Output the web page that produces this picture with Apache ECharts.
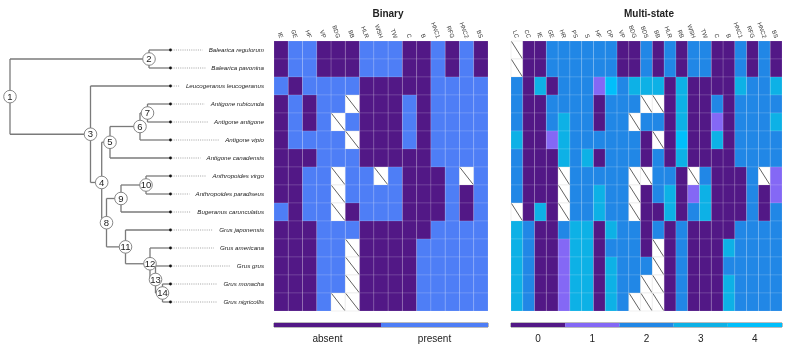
<!DOCTYPE html>
<html><head><meta charset="utf-8">
<script src="https://cdn.jsdelivr.net/npm/echarts@6/dist/echarts.min.js"></script>
<style>html,body{margin:0;padding:0;background:#fff}#c{width:790px;height:349px}</style>
</head><body><div id="c"></div>
<script>
// ---------------- DATA ----------------
const species = ['Balearica regulorum','Balearica pavonina','Leucogeranus leucogeranus','Antigone rubicunda','Antigone antigone','Antigone vipio','Antigone canadensis','Anthropoides virgo','Anthropoides paradiseus','Bugeranus carunculatus','Grus japonensis','Grus americana','Grus grus','Grus monacha','Grus nigricollis'];
const binaryTraits = ['IE','GE','HF','VP','BDG','BB','HLR','WSH','TW','C','B','HNC1','RFG','HNC2','BS'];
const multiTraits = ['LC','CC','IE','GE','HR','PS','S','HF','DP','VP','BDG','BDS','BB','HLR','RB','WSH','TW','C','B','HNC1','RFG','HNC2','BS'];
const binaryLevels = ['absent','present'];
const multiLevels = ['0','1','2','3','4'];
const NA = null;
// binary: 0 absent, 1 present, null = missing
const binaryValues = [
 [0,1,1,0,0,0,1,1,1,0,0,1,0,1,0],
 [0,1,1,0,0,0,1,1,1,0,0,1,0,1,0],
 [1,0,1,1,1,1,0,0,0,0,0,1,1,1,1],
 [0,1,0,1,1,NA,0,0,0,1,0,1,1,1,1],
 [0,1,0,1,NA,1,0,0,0,1,0,1,1,1,1],
 [0,1,1,1,1,NA,0,0,0,1,0,1,1,1,1],
 [0,0,0,1,1,1,0,0,0,0,0,1,1,1,1],
 [0,0,1,1,NA,1,1,NA,1,0,0,0,1,NA,1],
 [0,0,1,1,NA,1,1,1,1,0,0,0,1,0,1],
 [1,0,1,1,NA,0,1,1,1,0,0,0,1,0,1],
 [0,0,0,1,1,1,0,0,0,0,0,1,1,1,1],
 [0,0,0,1,1,NA,0,0,0,0,1,1,1,1,1],
 [0,0,0,1,1,NA,0,0,0,0,1,1,1,1,1],
 [0,0,0,1,1,NA,0,0,0,0,1,1,1,1,1],
 [0,0,0,1,NA,NA,0,0,0,0,1,1,1,1,1]
];
// multi-state: LC CC IE GE HR PS S HF DP VP BDG BDS BB HLR RB WSH TW C B HNC1 RFG HNC2 BS
const multiValues = [
 [NA,0,0,2,2,2,2,2,2,0,0,2,0,2,0,2,2,0,0,2,0,2,0],
 [NA,0,0,2,2,2,2,2,2,0,0,2,0,2,0,2,2,0,0,2,0,2,0],
 [2,0,3,0,2,2,2,1,4,2,3,3,3,0,3,0,0,0,0,3,2,2,3],
 [2,0,0,2,2,2,2,0,2,2,2,NA,NA,0,3,0,0,2,0,2,2,2,2],
 [2,0,0,2,3,2,2,0,2,2,NA,2,2,0,3,0,0,1,0,2,2,2,3],
 [3,0,0,1,3,2,2,2,2,2,2,0,NA,0,4,0,0,3,0,2,2,2,2],
 [2,0,0,0,3,2,3,0,2,2,2,0,2,0,3,0,0,0,0,2,2,2,2],
 [2,0,0,0,NA,2,2,2,2,2,NA,NA,2,2,0,NA,2,0,0,0,2,NA,1],
 [2,0,0,0,NA,2,2,3,2,2,NA,0,2,3,0,1,3,0,0,0,2,0,1],
 [NA,0,3,0,NA,2,2,3,2,2,NA,0,0,3,0,2,3,0,0,0,2,0,2],
 [3,2,0,0,2,3,3,0,3,2,2,0,2,0,2,0,0,0,0,2,2,2,2],
 [3,2,0,0,1,3,3,0,2,2,2,0,NA,0,2,0,0,0,3,2,2,2,2],
 [3,2,0,0,1,3,3,0,3,2,2,2,NA,0,2,0,0,0,2,2,2,2,2],
 [3,2,0,0,1,3,3,0,3,2,2,NA,NA,0,2,0,0,0,3,2,2,2,2],
 [3,2,0,0,1,3,3,0,3,2,NA,NA,NA,0,2,0,0,0,3,2,2,2,2]
];
// tree: internal nodes 1..14, their depth position and children (node number or tip name)
const treeNodeIds = [1,2,3,4,5,6,7,8,9,10,11,12,13,14];
const treeNodeDepth = [10,149,90.5,101.7,110,140,147.5,106.5,121,146,125.5,150,155.5,162.5];
const treeNodeChildren = [
 [2,3],
 ['Balearica regulorum','Balearica pavonina'],
 ['Leucogeranus leucogeranus',4],
 [5,8],
 [6,'Antigone canadensis'],
 [7,'Antigone vipio'],
 ['Antigone rubicunda','Antigone antigone'],
 [9,11],
 [10,'Bugeranus carunculatus'],
 ['Anthropoides virgo','Anthropoides paradiseus'],
 ['Grus japonensis',12],
 ['Grus americana',13],
 ['Grus grus',14],
 ['Grus monacha','Grus nigricollis']
];
const tipDepth = 170.5;

// ---------------- STYLE / LAYOUT ----------------
const PURPLE = '#521886';
const binaryColors = [PURPLE, '#4E7EF6'];
const multiColors = [PURPLE, '#8468F5', '#2187E6', '#0DB1E6', '#00BFFB'];
const FONT = 'Liberation Sans';
const TOP = 41, HEIGHT = 270;
const BIN_LEFT = 274, BIN_W = 214;
const MUL_LEFT = 511, MUL_W = 271;
const LABEL_MARGIN = 10, LABEL_SIZE = 6.2;
const TREE_W = BIN_LEFT - LABEL_MARGIN;

const measureCtx = document.createElement('canvas').getContext('2d');
measureCtx.font = 'italic ' + LABEL_SIZE + 'px "' + FONT + '"';

// ---------------- BUILD ----------------
const tipY = {}; species.forEach((s,i)=>tipY[s]=i);
const nodeY = {};
function yOf(c){ if (typeof c === 'string') return tipY[c];
  if (nodeY[c] == null){ const ch = treeNodeChildren[c-1]; nodeY[c] = (yOf(ch[0]) + yOf(ch[1]))/2; }
  return nodeY[c]; }
function xOf(c){ return typeof c === 'string' ? tipDepth : treeNodeDepth[treeNodeIds.indexOf(c)]; }
const edgeData = [];
treeNodeIds.forEach(id=>{
  const x = xOf(id); const ch = treeNodeChildren[id-1]; const ys = ch.map(yOf);
  edgeData.push([x, Math.min(...ys), x, Math.max(...ys)]);
  ch.forEach(c=>edgeData.push([x, yOf(c), xOf(c), yOf(c)]));
});
const nodeData = treeNodeIds.map(id=>[xOf(id), yOf(id), id]);
const tipData = species.map((s,i)=>[tipDepth, i]);

function toCells(values){ const out=[]; values.forEach((row,r)=>row.forEach((v,c)=>out.push([c,r,v==null?-1:v]))); return out; }

function heatRender(colors){
  return function(params, api){
    const v = api.value(2);
    const c = api.coord([api.value(0), api.value(1)]);
    const s = api.size([1,1]);
    const x = c[0]-s[0]/2, y = c[1]-s[1]/2;
    if (v < 0) {
      return {type:'group', children:[
        {type:'rect', shape:{x:x,y:y,width:s[0],height:s[1]}, style:{fill:'#fff', stroke:'rgba(210,210,210,0.6)', lineWidth:0.5}},
        {type:'line', shape:{x1:x+0.5,y1:y+0.5,x2:x+s[0]-0.5,y2:y+s[1]-0.5}, style:{stroke:'#3a3a3a', lineWidth:0.8}}
      ]};
    }
    return {type:'rect', shape:{x:x,y:y,width:s[0],height:s[1]}, style:{fill:colors[v], stroke:'rgba(255,255,255,0.22)', lineWidth:0.6}};
  };
}
function barRender(colors){
  return function(params, api){
    const c = api.coord([api.value(0), 0]);
    const s = api.size([1,1]);
    return {type:'rect', shape:{x:c[0]-s[0]/2, y:c[1]-s[1]/2, width:s[0], height:s[1]}, style:{fill:colors[api.value(0)]}};
  };
}

const hiddenAxisCommon = {axisLine:{show:false}, axisTick:{show:false}, splitLine:{show:false}};
const topLabel = {show:true, rotate:70, fontSize:6, fontFamily:FONT, color:'#333', margin:3, interval:0};

const option = {
  animation:false,
  backgroundColor:'#fff',
  title:[
    {text:'Binary', left:383, top:4, textAlign:'center', textStyle:{fontSize:10, fontWeight:'bold', color:'#222', fontFamily:FONT}},
    {text:'Multi-state', left:644, top:4, textAlign:'center', textStyle:{fontSize:10, fontWeight:'bold', color:'#222', fontFamily:FONT}}
  ],
  grid:[
    {left:0, top:TOP, width:TREE_W, height:HEIGHT},
    {left:BIN_LEFT, top:TOP, width:BIN_W, height:HEIGHT},
    {left:MUL_LEFT, top:TOP, width:MUL_W, height:HEIGHT},
    {left:BIN_LEFT, top:323, width:BIN_W, height:4, show:true, borderColor:'#555', borderWidth:0.8},
    {left:MUL_LEFT, top:323, width:MUL_W, height:4, show:true, borderColor:'#555', borderWidth:0.8}
  ],
  xAxis:[
    Object.assign({gridIndex:0, type:'value', min:0, max:TREE_W, show:false}, hiddenAxisCommon),
    Object.assign({gridIndex:1, type:'category', data:binaryTraits, position:'top', axisLabel:topLabel}, hiddenAxisCommon),
    Object.assign({gridIndex:2, type:'category', data:multiTraits, position:'top', axisLabel:topLabel}, hiddenAxisCommon),
    Object.assign({gridIndex:3, type:'category', data:binaryLevels, position:'bottom', axisLabel:{fontSize:10, fontFamily:FONT, color:'#222', margin:7}}, hiddenAxisCommon),
    Object.assign({gridIndex:4, type:'category', data:multiLevels, position:'bottom', axisLabel:{fontSize:10, fontFamily:FONT, color:'#222', margin:7}}, hiddenAxisCommon)
  ],
  yAxis:[
    Object.assign({gridIndex:0, type:'value', min:-0.5, max:species.length-0.5, inverse:true, show:false}, hiddenAxisCommon),
    Object.assign({gridIndex:1, type:'category', data:species, inverse:true, axisLabel:{show:true, fontSize:LABEL_SIZE, fontStyle:'italic', fontFamily:FONT, color:'#1a1a1a', margin:LABEL_MARGIN, interval:0}}, hiddenAxisCommon),
    Object.assign({gridIndex:2, type:'category', data:species, inverse:true, axisLabel:{show:false}}, hiddenAxisCommon),
    Object.assign({gridIndex:3, type:'category', data:[''], axisLabel:{show:false}}, hiddenAxisCommon),
    Object.assign({gridIndex:4, type:'category', data:[''], axisLabel:{show:false}}, hiddenAxisCommon)
  ],
  series:[
    {type:'custom', xAxisIndex:0, yAxisIndex:0, data:edgeData, z:2,
     renderItem:function(params, api){
       const p1 = api.coord([api.value(0), api.value(1)]); const p2 = api.coord([api.value(2), api.value(3)]);
       return {type:'line', shape:{x1:p1[0],y1:p1[1],x2:p2[0],y2:p2[1]}, style:{stroke:'#7a7a7a', lineWidth:1.3}};
     }},
    {type:'custom', xAxisIndex:0, yAxisIndex:0, data:tipData, z:3,
     renderItem:function(params, api){
       const p = api.coord([api.value(0), api.value(1)]);
       const right = api.coord([TREE_W, 0])[0];
       const w = measureCtx.measureText(species[params.dataIndex]).width;
       const end = right - w - 6;
       return {type:'group', children:[
         {type:'line', shape:{x1:p[0]+1,y1:p[1],x2:end,y2:p[1]}, style:{stroke:'#8a8a8a', lineWidth:0.8, lineDash:[1,1.2]}},
         {type:'circle', shape:{cx:p[0], cy:p[1], r:1.4}, style:{fill:'#111'}}
       ]};
     }},
    {type:'custom', xAxisIndex:0, yAxisIndex:0, data:nodeData, z:4,
     renderItem:function(params, api){
       const p = api.coord([api.value(0), api.value(1)]);
       return {type:'group', children:[
         {type:'circle', shape:{cx:p[0], cy:p[1], r:6.3}, style:{fill:'#fff', stroke:'#7a7a7a', lineWidth:0.9}},
         {type:'text', style:{text:String(api.value(2)), x:p[0], y:p[1]+0.5, align:'center', verticalAlign:'middle', fontSize:9.5, fontFamily:FONT, fill:'#222'}}
       ]};
     }},
    {type:'custom', xAxisIndex:1, yAxisIndex:1, data:toCells(binaryValues), renderItem:heatRender(binaryColors)},
    {type:'custom', xAxisIndex:2, yAxisIndex:2, data:toCells(multiValues), renderItem:heatRender(multiColors)},
    {type:'custom', xAxisIndex:3, yAxisIndex:3, data:binaryLevels.map((l,i)=>[i,0]), renderItem:barRender(binaryColors)},
    {type:'custom', xAxisIndex:4, yAxisIndex:4, data:multiLevels.map((l,i)=>[i,0]), renderItem:barRender(multiColors)}
  ]
};
const chart = echarts.init(document.getElementById('c'));
chart.setOption(option);
</script></body></html>
